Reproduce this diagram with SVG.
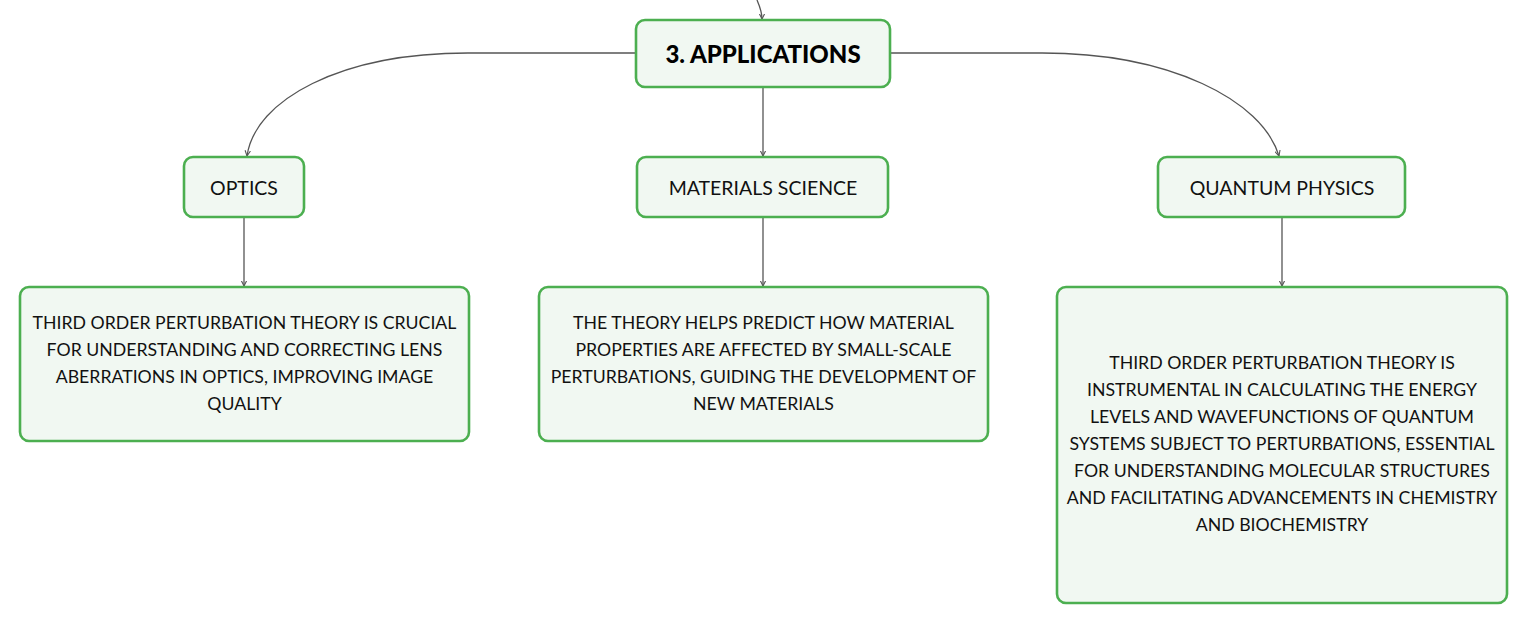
<svg xmlns="http://www.w3.org/2000/svg" width="1527" height="623" viewBox="0 0 1527 623">
<defs>
<style>
.box{fill:#f1f8f2;stroke:#4caf50;stroke-width:2.6}
.t{font-family:Lato,"Noto Sans","Liberation Sans",sans-serif;font-size:17.7px;fill:#111;text-anchor:middle;dominant-baseline:central}
.n{font-family:Lato,"Noto Sans","Liberation Sans",sans-serif;font-size:19.5px;fill:#111;text-anchor:middle;dominant-baseline:central}
.h{font-family:Lato,"Noto Sans","Liberation Sans",sans-serif;font-size:24px;font-weight:900;fill:#000;text-anchor:middle;dominant-baseline:central}
.c{fill:none;stroke:#555;stroke-width:1.3}
</style>
<marker id="ah" viewBox="0 0 6 6" refX="5" refY="3" markerWidth="5" markerHeight="5" orient="auto">
<path d="M0,0.5 L5,3 L0,5.5" fill="none" stroke="#555" stroke-width="1"/>
</marker>
</defs>
<rect width="1527" height="623" fill="#fff"/>
<g id="connectors">
<path class="c" d="M757,0 C760,7 762,13 762,19" marker-end="url(#ah)"/>
<path class="c" d="M636,53 H468 C340,53 255,100 247,156" marker-end="url(#ah)"/>
<path class="c" d="M890,53 H1042 C1170,53 1262,100 1279,156" marker-end="url(#ah)"/>
<path class="c" d="M763,87 V156" marker-end="url(#ah)"/>
<path class="c" d="M244,217 V286" marker-end="url(#ah)"/>
<path class="c" d="M763,217 V286" marker-end="url(#ah)"/>
<path class="c" d="M1282,217 V286" marker-end="url(#ah)"/>
</g>
<g id="applications">
<rect class="box" x="636" y="20" width="254" height="67" rx="9"/>
<text class="h" x="763" y="53">3. APPLICATIONS</text>
</g>
<g id="optics">
<rect class="box" x="184" y="157" width="120" height="60" rx="9"/>
<text class="n" x="244" y="187">OPTICS</text>
</g>
<g id="materials">
<rect class="box" x="637" y="157" width="251" height="60" rx="9"/>
<text class="n" x="763" y="187">MATERIALS SCIENCE</text>
</g>
<g id="quantum">
<rect class="box" x="1158" y="157" width="247" height="60" rx="9"/>
<text class="n" x="1282" y="187">QUANTUM PHYSICS</text>
</g>
<g id="optics-desc">
<rect class="box" x="20" y="287" width="449" height="154" rx="9"/>
<text class="t" x="244.5" y="322">THIRD ORDER PERTURBATION THEORY IS CRUCIAL</text>
<text class="t" x="244.5" y="349">FOR UNDERSTANDING AND CORRECTING LENS</text>
<text class="t" x="244.5" y="376">ABERRATIONS IN OPTICS, IMPROVING IMAGE</text>
<text class="t" x="244.5" y="403">QUALITY</text>
</g>
<g id="materials-desc">
<rect class="box" x="539" y="287" width="449" height="154" rx="9"/>
<text class="t" x="763.5" y="322">THE THEORY HELPS PREDICT HOW MATERIAL</text>
<text class="t" x="763.5" y="349">PROPERTIES ARE AFFECTED BY SMALL-SCALE</text>
<text class="t" x="763.5" y="376">PERTURBATIONS, GUIDING THE DEVELOPMENT OF</text>
<text class="t" x="763.5" y="403">NEW MATERIALS</text>
</g>
<g id="quantum-desc">
<rect class="box" x="1057" y="287" width="450" height="316" rx="9"/>
<text class="t" x="1282" y="362">THIRD ORDER PERTURBATION THEORY IS</text>
<text class="t" x="1282" y="389">INSTRUMENTAL IN CALCULATING THE ENERGY</text>
<text class="t" x="1282" y="416">LEVELS AND WAVEFUNCTIONS OF QUANTUM</text>
<text class="t" x="1282" y="443">SYSTEMS SUBJECT TO PERTURBATIONS, ESSENTIAL</text>
<text class="t" x="1282" y="470">FOR UNDERSTANDING MOLECULAR STRUCTURES</text>
<text class="t" x="1282" y="497">AND FACILITATING ADVANCEMENTS IN CHEMISTRY</text>
<text class="t" x="1282" y="524">AND BIOCHEMISTRY</text>
</g>
</svg>
